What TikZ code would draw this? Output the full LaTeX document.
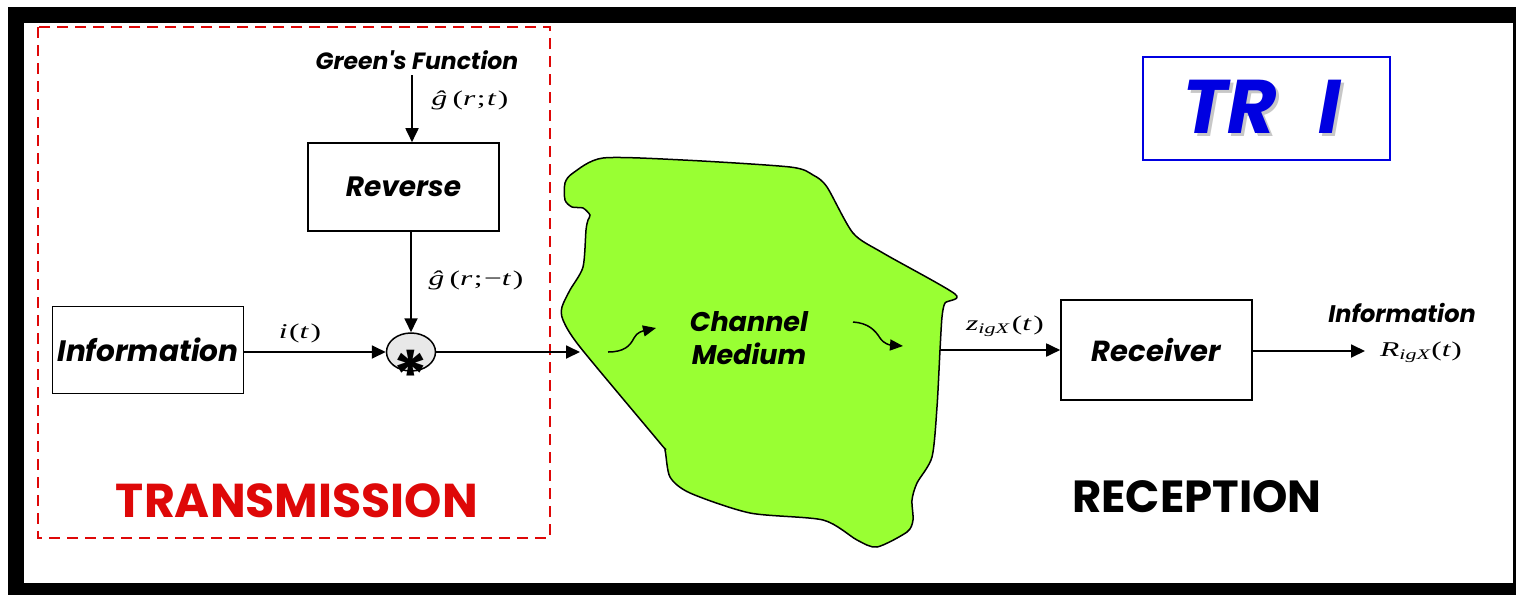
\documentclass[tikz,border=0pt]{standalone}
\usepackage{graphicx}
\usepackage{fontspec}
\usetikzlibrary{arrows.meta,shapes.geometric}
\newfontfamily\hand{Poppins}
\newfontfamily\tms{Liberation Serif}
\newcommand\itv[1]{\textit{#1}}
\newcommand\widesig[1]{\scalebox{1.5}[1]{#1}}
\definecolor{txred}{RGB}{222,8,8}
\definecolor{blobgreen}{RGB}{153,255,51}
\definecolor{trblue}{RGB}{0,0,225}
\definecolor{convgray}{RGB}{232,232,232}

\begin{document}
\begin{tikzpicture}[x=1pt,y=-1pt,
  blockbox/.style={draw=black, line width=1.6pt, minimum width=191pt, inner sep=0pt},
  flow/.style={draw=black, line width=1.8pt, -{Triangle[length=14pt,width=13pt]}},
  wiggle/.style={draw=black, line width=1.5pt, -{Triangle[length=13pt,width=11pt]}},
  sig/.style={inner sep=0pt, font=\tms\fontsize{21}{21}\selectfont},
  handbi/.style={inner sep=0pt, font=\hand\bfseries\itshape},
  handb/.style={inner sep=0pt, font=\hand\bfseries}]

% page and heavy frame
\useasboundingbox (0,0) rectangle (1516,595);
\fill[white] (0,0) rectangle (1516,595);
\fill[black] (8,7) rectangle (1516,595);
\fill[white] (24,23) rectangle (1513,583);

% transmitter region
\draw[txred, line width=2.6pt, dash pattern=on 11pt off 7pt] (38,27) rectangle (550,538);

% propagation medium
\draw[fill=blobgreen, line width=1.5pt] plot[smooth cycle, tension=0.45] coordinates {
  (603,158) (683,160) (790,167) (813,175) (827,187) (853,233) (883,253)
  (955,294) (945,303) (942,317) (940,350) (937,407) (932,457) (917,483)
  (912,500) (913,520) (907,532) (877,547) (857,540) (823,520) (750,513)
  (690,493) (670,477) (665,450) (660,443) (580,347) (563,320) (562,307)
  (570,290) (583,267) (586,230) (588,220) (590,215) (583,208) (572,207)
  (565,200) (565,183) (573,173)};
\node[handbi, font=\hand\bfseries\itshape\fontsize{27}{33}\selectfont, align=center] (medium) at (749,338) {Channel\\Medium};
\draw[wiggle] (608,352) .. controls (624,352) and (630,346) .. (634,338) .. controls (637,332) and (643,331) .. (656,328);
\draw[wiggle] (853,322) .. controls (868,323) and (875,330) .. (880,338) .. controls (884,344) and (890,345) .. (903,346);
\coordinate (chin) at (580,352);
\coordinate (chout) at (940,350);

% blocks
\node[handbi, font=\hand\bfseries\itshape\fontsize{23.5}{24}\selectfont] (gf) at (417,60) {Green's Function};
\coordinate (gfout) at (412,75);
\node[blockbox, minimum height=88pt, font=\hand\bfseries\itshape\fontsize{28}{28}\selectfont] (rev) at (403.5,187) {Reverse};
\node[blockbox, minimum height=87pt, font=\hand\bfseries\itshape\fontsize{29.5}{30}\selectfont] (info) at (148,350) {Information};
\node[ellipse, draw=black, line width=1.5pt, fill=convgray, minimum width=49pt, minimum height=38pt, inner sep=0pt] (conv) at (411,352) {};
\node[handb, anchor=base, font=\hand\bfseries\fontsize{68}{68}\selectfont] (star) at (411,400) {*};
\node[blockbox, minimum height=100pt, font=\hand\bfseries\itshape\fontsize{29}{29}\selectfont] (recv) at (1156.5,350) {Receiver};
\coordinate (outend) at (1365,351);

% connectors
\draw[flow] (gfout) -- (gfout |- rev.north);
\draw[flow] (conv.north |- rev.south) -- (conv.north);
\draw[flow] (info.east |- conv.west) -- (conv.west);
\draw[flow] (conv.east) -- (chin);
\draw[flow] (chout) -- (chout -| recv.west);
\draw[flow] (recv.east |- outend) -- (outend);

% signal labels
\node[sig] (lg) at (470,100) {\widesig{\itv{ĝ}\,(\itv{r}\kern1pt;\kern1pt\itv{t}\kern1pt)}};
\node[sig] (lgr) at (476,280) {\widesig{\itv{ĝ}\,(\itv{r}\kern1pt;\kern1pt−\itv{t}\kern1pt)}};
\node[sig] (li) at (300,333) {\widesig{\itv{i}\kern1pt(\itv{t}\kern1pt)}};
\node[sig] (lz) at (1005,326) {\widesig{\itv{z}\textsubscript{\itv{igX}}\kern1pt(\itv{t}\kern1pt)}};
\node[handbi, font=\hand\bfseries\itshape\fontsize{24}{24}\selectfont] (outinfo) at (1402,313) {Information};
\node[sig] (lr) at (1421,352) {\widesig{\itv{R}\textsubscript{\itv{igX}}(\itv{t})}};

% section captions
\node[handb, text=txred, font=\hand\bfseries\fontsize{47.5}{48}\selectfont] (tx) at (297,501) {TRANSMISSION};
\node[handb, font=\hand\bfseries\fontsize{45}{45}\selectfont] (rx) at (1197,497) {RECEPTION};

% title
\draw[trblue, line width=2pt] (1143,57) rectangle (1390,160);
\node[handbi, text=black!22, font=\hand\bfseries\itshape\fontsize{76}{76}\selectfont] (trshadow) at (1265,110) {TR \hspace{24pt}I};
\node[handbi, text=trblue, font=\hand\bfseries\itshape\fontsize{76}{76}\selectfont] (tr) at (1262,107) {TR \hspace{24pt}I};
\end{tikzpicture}
\end{document}
